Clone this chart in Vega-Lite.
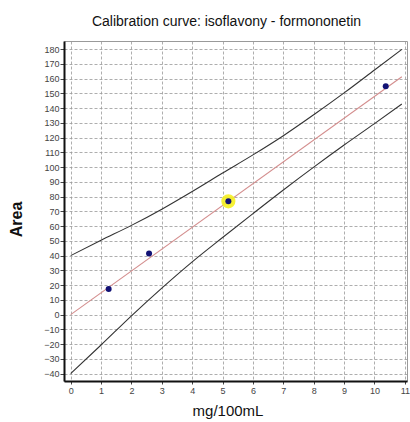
{
  "$schema": "https://vega.github.io/schema/vega-lite/v6.json",
  "autosize": {"type": "none"},
  "padding": {"left": 64, "top": 41, "right": 3, "bottom": 41},
  "width": 343,
  "height": 340,
  "background": "white",
  "title": {
    "text": "Calibration curve: isoflavony - formononetin",
    "font": "Liberation Sans",
    "fontSize": 14,
    "fontWeight": "normal",
    "color": "#111",
    "anchor": "middle",
    "frame": "group",
    "offset": 12,
    "dx": -9
  },
  "config": {
    "view": {"stroke": "#9a9a9a", "strokeWidth": 1},
    "axis": {
      "labelFont": "Liberation Sans",
      "titleFont": "Liberation Sans",
      "labelColor": "#444",
      "labelFontSize": 9,
      "labelOverlap": false,
      "labelFlush": false,
      "tickColor": "#444",
      "domainColor": "#111",
      "domainWidth": 2,
      "gridColor": "#999999",
      "gridDash": [3, 2],
      "gridWidth": 0.8,
      "titleColor": "#111"
    }
  },
  "datasets": {
    "points": [
      {"mg": 1.25, "area": 17.4, "highlighted": false},
      {"mg": 2.58, "area": 41.4, "highlighted": false},
      {"mg": 5.19, "area": 76.8, "highlighted": true},
      {"mg": 10.37, "area": 154.8, "highlighted": false}
    ],
    "fit": [
      {"mg": 0, "area": 0},
      {"mg": 10.9, "area": 161.3}
    ],
    "bands": [
      {"series": "upper", "mg": 0, "area": 40},
      {"series": "upper", "mg": 1, "area": 50.4},
      {"series": "upper", "mg": 2, "area": 60.5},
      {"series": "upper", "mg": 3, "area": 71.5},
      {"series": "upper", "mg": 4, "area": 83.5},
      {"series": "upper", "mg": 5, "area": 96},
      {"series": "upper", "mg": 6, "area": 108.3},
      {"series": "upper", "mg": 7, "area": 121.3},
      {"series": "upper", "mg": 8, "area": 135.5},
      {"series": "upper", "mg": 9, "area": 150.3},
      {"series": "upper", "mg": 10, "area": 165.8},
      {"series": "upper", "mg": 10.9, "area": 179.8},
      {"series": "lower", "mg": 0, "area": -40},
      {"series": "lower", "mg": 1, "area": -20.6},
      {"series": "lower", "mg": 2, "area": -0.8},
      {"series": "lower", "mg": 3, "area": 18},
      {"series": "lower", "mg": 4, "area": 35.8},
      {"series": "lower", "mg": 5, "area": 52.3},
      {"series": "lower", "mg": 6, "area": 68.5},
      {"series": "lower", "mg": 7, "area": 84.5},
      {"series": "lower", "mg": 8, "area": 100},
      {"series": "lower", "mg": 9, "area": 115},
      {"series": "lower", "mg": 10, "area": 129.5},
      {"series": "lower", "mg": 10.9, "area": 142.8}
    ]
  },
  "encoding": {
    "x": {
      "field": "mg", "type": "quantitative",
      "scale": {"domain": [-0.22, 11.07], "nice": false, "zero": false},
      "axis": {
        "values": [0, 1, 2, 3, 4, 5, 6, 7, 8, 9, 10, 11],
        "title": "mg/100mL",
        "titleFontSize": 15,
        "titleFontWeight": "normal",
        "titleX": 163.5,
        "titleY": 34,
        "titleBaseline": "alphabetic",
        "titleAlign": "center",
        "tickSize": 3,
        "labelPadding": 2
      }
    },
    "y": {
      "field": "area", "type": "quantitative",
      "scale": {"domain": [-45, 185.5], "nice": false, "zero": false},
      "axis": {
        "values": [-40, -30, -20, -10, 0, 10, 20, 30, 40, 50, 60, 70, 80, 90, 100, 110, 120, 130, 140, 150, 160, 170, 180],
        "title": "Area",
        "titleFontSize": 16,
        "titleFontWeight": "bold",
        "titleAngle": -90,
        "titleX": -48,
        "titleY": 178,
        "titleAlign": "center",
        "titleBaseline": "middle",
        "tickSize": 4,
        "labelPadding": 1
      }
    }
  },
  "layer": [
    {
      "data": {"name": "bands"},
      "mark": {"type": "line", "color": "#333333", "strokeWidth": 1.1, "interpolate": "monotone"},
      "encoding": {
        "detail": {"field": "series"}
      }
    },
    {
      "data": {"name": "fit"},
      "mark": {"type": "line", "color": "#d48e8e", "strokeWidth": 1.1},
      "encoding": {}
    },
    {
      "data": {"name": "points"},
      "transform": [{"filter": "datum.highlighted"}],
      "mark": {"type": "circle", "color": "#f5f020", "opacity": 0.9, "size": 200}
    },
    {
      "data": {"name": "points"},
      "mark": {"type": "circle", "color": "#121275", "opacity": 1, "size": 36}
    }
  ]
}
